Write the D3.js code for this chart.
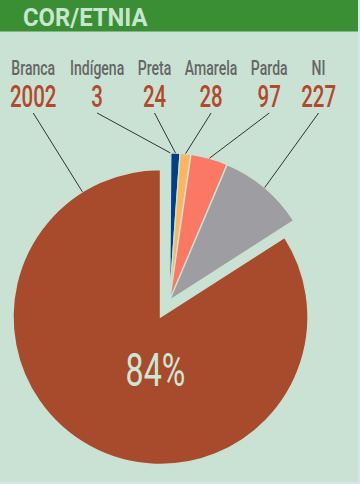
<!DOCTYPE html>
<html>
<head>
<meta charset="utf-8">
<script src="https://cdn.jsdelivr.net/npm/d3@7"></script>
<style>
  html, body { margin: 0; padding: 0; background: #d5e5e8; }
  svg { display: block; }
  text { font-family: Roboto, "Noto Sans", sans-serif; }
</style>
</head>
<body>
<div id="chart"></div>
<script>
// data
const categories = ["Branca", "Indígena", "Preta", "Amarela", "Parda", "NI"];
const counts = [2002, 3, 24, 28, 97, 227];
const title = "COR/ETNIA";

// palette, same order as categories
const colors = ["#a84b2c", "#c5aaa3", "#033f84", "#fdb562", "#fb7865", "#9e9da2"];

const width = 360, height = 484;
const bg = "#c9e2d3";

const svg = d3.select("#chart").append("svg")
  .attr("width", width)
  .attr("height", height);

// panel + header band
svg.append("rect").attr("width", 358).attr("height", 482).attr("fill", bg);
svg.append("rect").attr("width", 358).attr("height", 31.5).attr("fill", "#3a8e33");

// condensed text helper: Roboto squeezed horizontally
function ctext(parent, x, y, str, size, sx, fill, weight, anchor) {
  const g = parent.append("g").attr("transform", "translate(" + x + "," + y + ") scale(" + sx + ",1)");
  const t = g.append("text")
    .attr("text-anchor", anchor || "middle")
    .attr("font-size", size)
    .attr("font-weight", weight || "normal")
    .attr("fill", fill)
    .text(str);
  return { g: g, t: t, sx: sx };
}

ctext(svg, 23, 26, title, 26.5, 0.9, "#c8e6cf", "bold", "start");

// label columns, justified between left and right edges
const data = categories.map(function(c, i) { return { cat: c, value: counts[i], color: colors[i], i: i }; });
const labelY = 75, numberY = 107, lineY = 113;
const colLeft = 10, colRight = 336;

const cols = data.map(function(d) {
  const a = ctext(svg, 0, labelY, d.cat, 19.5, 0.72, "#666666", 500);
  const b = ctext(svg, 0, numberY, d.value, 31, 0.66, "#b2492c", 500);
  const w = Math.max(a.t.node().getComputedTextLength() * a.sx, b.t.node().getComputedTextLength() * b.sx);
  return { a: a, b: b, w: w };
});
const gap = (colRight - colLeft - d3.sum(cols, function(c) { return c.w; })) / (cols.length - 1);
let xpos = colLeft;
cols.forEach(function(c, i) {
  c.cx = xpos + c.w / 2;
  c.a.g.attr("transform", "translate(" + c.cx + "," + labelY + ") scale(" + c.a.sx + ",1)");
  c.b.g.attr("transform", "translate(" + c.cx + "," + numberY + ") scale(" + c.b.sx + ",1)");
  data[i].labelX = c.cx;
  xpos += c.w + gap;
});

// pie: largest slice closes at 12 o'clock, the rest start there clockwise
const total = d3.sum(counts);
const bigIdx = d3.maxIndex(counts);
const pie = d3.pie()
  .value(function(d) { return d.value; })
  .sort(function(a, b) {
    return (a.i === bigIdx ? 1 : 0) - (b.i === bigIdx ? 1 : 0) || a.i - b.i;
  })
  .startAngle(0)
  .endAngle(2 * Math.PI);
const arcsData = pie(data);

const cx = 160.5, cy = 317, r = 147.5;
const arc = d3.arc().innerRadius(0).outerRadius(r);

// small slices are pulled out together along their mid angle
const small = arcsData.filter(function(a) { return a.data.i !== bigIdx; });
const groupMid = (d3.min(small, function(a) { return a.startAngle; }) + d3.max(small, function(a) { return a.endAngle; })) / 2;
const explode = 19;
const ex = explode * Math.sin(groupMid), ey = -explode * Math.cos(groupMid);

const pieG = svg.append("g").attr("transform", "translate(" + cx + "," + cy + ")");

pieG.selectAll("path")
  .data(arcsData)
  .join("path")
  .attr("d", arc)
  .attr("transform", function(a) { return a.data.i === bigIdx ? null : "translate(" + ex + "," + ey + ")"; })
  .attr("fill", function(a) { return a.data.color; })
  .attr("stroke", bg)
  .attr("stroke-width", 1.4);

// leader lines from number to slice edge
arcsData.forEach(function(a) {
  const x0 = a.data.labelX, y0 = lineY;
  let x1, y1;
  if (a.data.i === bigIdx) {
    const ang = Math.atan2(x0 - cx, -(y0 - cy));
    x1 = cx + r * Math.sin(ang);
    y1 = cy - r * Math.cos(ang);
  } else {
    const mid = (a.startAngle + a.endAngle) / 2;
    x1 = cx + ex + r * Math.sin(mid);
    y1 = cy + ey - r * Math.cos(mid);
  }
  svg.append("line")
    .attr("x1", x0).attr("y1", y0)
    .attr("x2", x1).attr("y2", y1)
    .attr("stroke", "#333")
    .attr("stroke-width", 1);
});

// share of the largest slice
const pct = Math.round(counts[bigIdx] / total * 100) + "%";
ctext(svg, cx - 5, cy + 69, pct, 46, 0.7, "#cde6d5");
</script>
</body>
</html>
